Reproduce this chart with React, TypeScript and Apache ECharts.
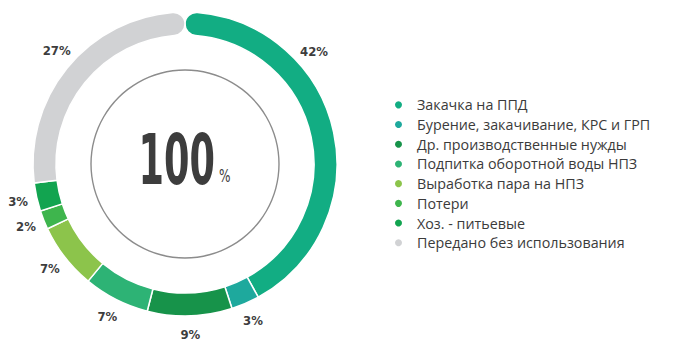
import React, { useEffect, useRef } from "react";
import * as echarts from "echarts";

const categories = [
  "Закачка на ППД",
  "Бурение, закачивание, КРС и ГРП",
  "Др. производственные нужды",
  "Подпитка оборотной воды НПЗ",
  "Выработка пара на НПЗ",
  "Потери",
  "Хоз. - питьевые",
  "Передано без использования",
];
const values = [42, 3, 9, 7, 7, 2, 3, 27];
const colors = ["#12ad83", "#1ea99d", "#17934a", "#2db375", "#8cc44b", "#3eb54d", "#12a450", "#d1d2d4"];
const totalLabel = "100";

const CX = 185;
const CY = 164;
const LABEL_R = 171;
const NARROW = "'DejaVu Sans Condensed', 'Liberation Sans Narrow', sans-serif";

export default function App() {
  const ref = useRef<HTMLDivElement>(null);
  useEffect(() => {
    if (!ref.current) return;
    const chart = echarts.init(ref.current, null, { renderer: "svg" });
    const total = values.reduce((a, b) => a + b, 0);
    const cum: number[] = [];
    let acc = 0;
    values.forEach((v) => {
      cum.push(acc);
      acc += v;
    });
    const last = values.length - 1;
    chart.setOption({
      animation: false,
      legend: {
        orient: "vertical",
        left: 393,
        top: 95,
        padding: 0,
        icon: "circle",
        itemWidth: 9,
        itemHeight: 9,
        itemGap: 0,
        selectedMode: false,
        data: categories,
        textStyle: {
          fontFamily: "'Open Sans', sans-serif",
          fontSize: 14.3,
          color: "#3b3b3b",
          lineHeight: 19.7,
          padding: [0, 0, 0, 9],
        },
      },
      graphic: [
        {
          type: "text",
          x: 215,
          y: 160,
          scaleX: 0.59,
          style: {
            text: totalLabel,
            fill: "#3d3d3d",
            font: `bold 69px ${NARROW}`,
            align: "right",
            verticalAlign: "middle",
          },
        },
        {
          type: "text",
          x: 219,
          y: 176,
          scaleX: 0.75,
          style: {
            text: "%",
            fill: "#3d3d3d",
            font: `18px ${NARROW}`,
            align: "left",
            verticalAlign: "middle",
          },
        },
      ],
      series: [
        {
          type: "pie",
          center: [CX, CY],
          radius: [93.3, 94.7],
          silent: true,
          label: { show: false },
          labelLine: { show: false },
          itemStyle: { color: "#8c8c8c" },
          data: [{ value: 1, name: "" }],
          legendHoverLink: false,
        },
        {
          type: "pie",
          center: [CX, CY],
          radius: [129, 152],
          startAngle: 90,
          clockwise: true,
          avoidLabelOverlap: false,
          itemStyle: { borderColor: "#ffffff", borderWidth: 1.5 },
          label: {
            show: true,
            position: "outside",
            formatter: "{c}%",
            fontFamily: NARROW,
            fontWeight: "bold",
            fontSize: 13,
            color: "#3d3d3d",
          },
          labelLine: { show: false },
          labelLayout: (p: any) => {
            const i = p.dataIndex;
            let deg = ((cum[i] + values[i] / 2) / total) * 360;
            if (i === 0) deg = 49;
            const t = (deg * Math.PI) / 180;
            return {
              x: CX + LABEL_R * Math.sin(t),
              y: CY - LABEL_R * Math.cos(t),
              align: "center",
              verticalAlign: "middle",
            };
          },
          data: categories.map((name, i) => ({
            name,
            value: values[i],
            itemStyle: {
              color: colors[i],
              borderRadius: i === 0 ? [12, 0, 12, 0] : i === last ? [0, 12, 0, 12] : 0,
            },
          })),
        },
      ],
    });
    return () => chart.dispose();
  }, []);
  return (
    <div
      ref={ref}
      style={{ position: "absolute", left: 0, top: 0, width: 696, height: 357 }}
    />
  );
}
